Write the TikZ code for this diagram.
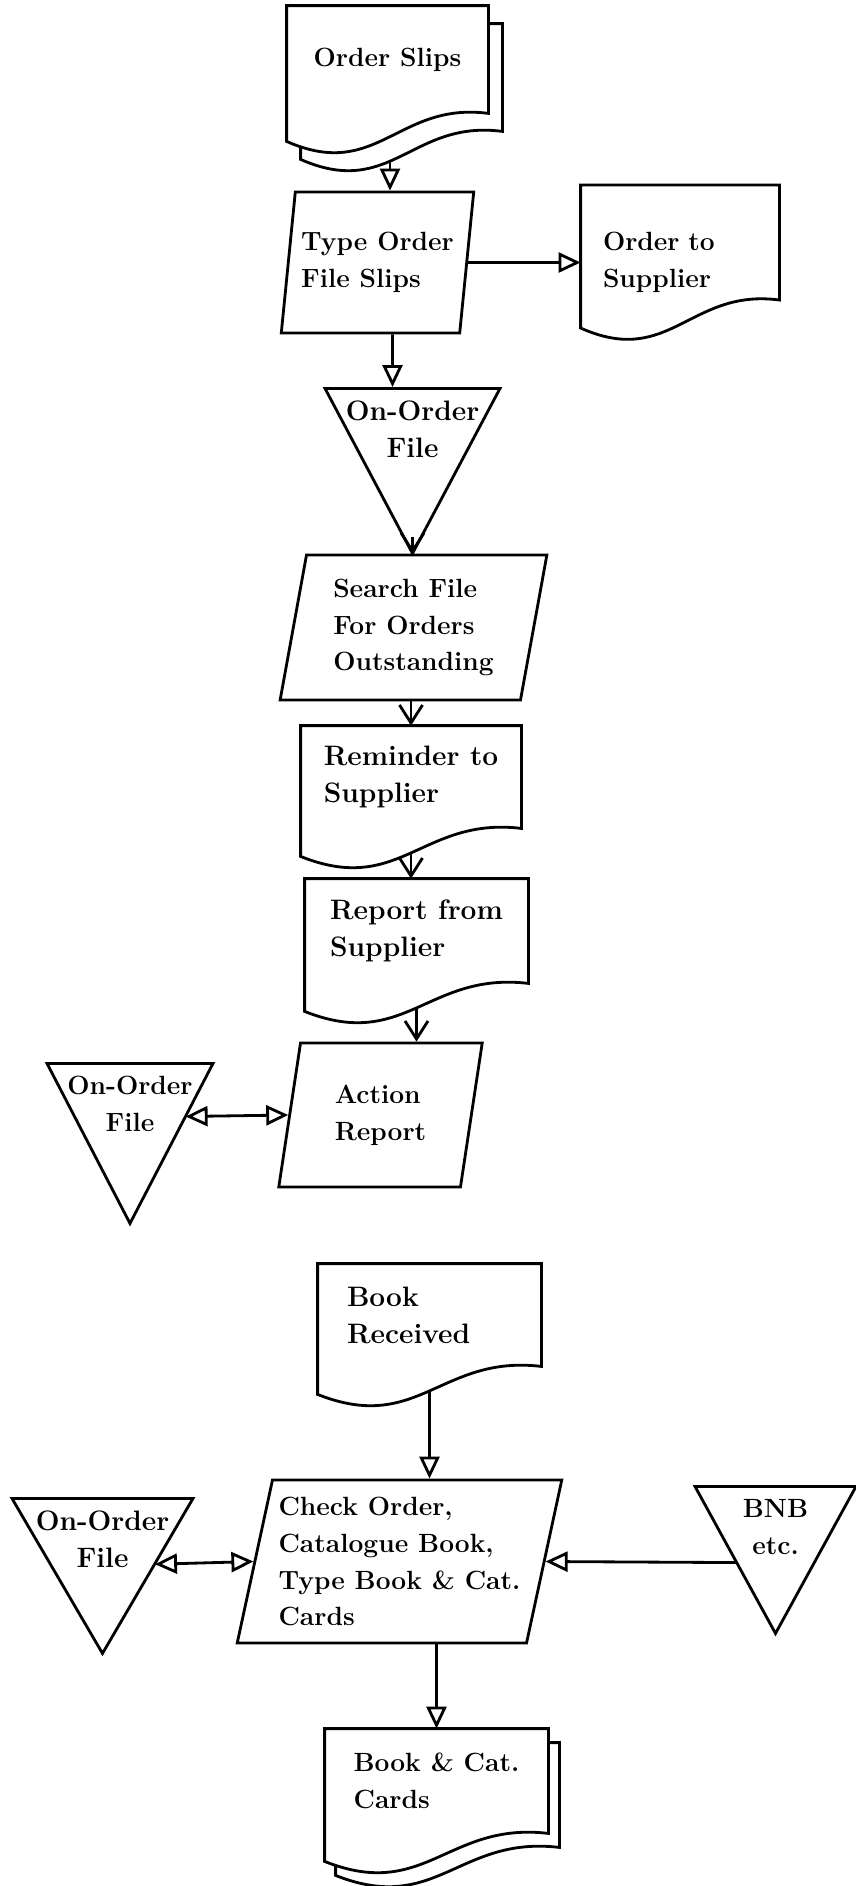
\documentclass[tikz,border=0pt]{standalone}
\usepackage{fontspec}
\usetikzlibrary{shapes.geometric,arrows.meta,calc,backgrounds}

\newcommand{\docoutline}[2][]{%
  \draw[line width=1.6pt,#1] (#2.north west) -- (#2.north east) -- (#2.south east)
    .. controls ($(#2.south west)!0.55!(#2.south east)+(0,0.24)$)
    and ($(#2.south west)!0.45!(#2.south east)+(0,-1.36)$)
    .. ($(#2.south west)+(0,-0.56)$) -- cycle;}

\begin{document}
\begin{tikzpicture}[line width=1.6pt,
    font=\fontsize{15}{21}\selectfont\bfseries,
    midtext/.style={font=\fontsize{16}{21}\selectfont\bfseries},
    doc/.style={rectangle, align=left},
    proc/.style={draw, trapezium, trapezium left angle=79, trapezium right angle=101, trapezium stretches, align=left},
    file/.style={draw, isosceles triangle, shape border rotate=270, isosceles triangle stretches, anchor=north},
    filetext/.style={anchor=north, align=center, yshift=-0.14cm},
    flow/.style={-{Triangle[open,length=0.44cm,width=0.4cm]}},
    twoway/.style={{Triangle[open,length=0.44cm,width=0.4cm]}-{Triangle[open,length=0.44cm,width=0.4cm]}},
    feed/.style={-{Straight Barb[length=0.36cm,width=0.46cm]}}]
  \useasboundingbox (0,0) rectangle (17.12,-37.72);

  % ordering
  \node[doc, minimum width=3.98cm, minimum height=2.1cm] (slips) at (7.75,-1.19) {Order Slips};
  \node[proc, minimum width=3.82cm, minimum height=2.82cm] (type) at (7.55,-5.25) {Type Order\\File Slips};
  \node[doc, minimum width=3.92cm, minimum height=2.02cm, text width=3.08cm, text height=1.17cm] (sup) at (13.6,-4.85) {Order to\\Supplier};
  \node[file, minimum width=3.5cm, minimum height=3.3cm] (f1) at (8.25,-7.74) {};
  \node[filetext, midtext] (f1t) at (f1.north) {On-Order\\File};

  % chasing
  \node[proc, minimum width=5.34cm, minimum height=2.9cm] (search) at (8.27,-12.55) {Search File\\For Orders\\Outstanding};
  \node[doc, midtext, minimum width=4.36cm, minimum height=2cm] (rem) at (8.22,-15.54) {Reminder to\\Supplier};
  \node[doc, midtext, minimum width=4.42cm, minimum height=2.04cm] (rep) at (8.33,-18.62) {Report from\\Supplier};
  \node[proc, minimum width=4.1cm, minimum height=2.88cm] (act) at (7.61,-22.3) {Action\\Report};
  \node[file, minimum width=3.32cm, minimum height=3.2cm] (f2) at (2.6,-21.24) {};
  \node[filetext] (f2t) at (f2.north) {On-Order\\File};

  % receiving
  \node[doc, midtext, minimum width=4.42cm, minimum height=2cm, text width=3.3cm] (rcv) at (8.59,-26.3) {Book\\Received};
  \node[proc, trapezium left angle=76, trapezium right angle=104, minimum width=6.5cm, minimum height=3.26cm] (chk) at (7.99,-31.23) {Check Order,\\Catalogue Book,\\Type Book \& Cat.\\Cards};
  \node[file, minimum width=3.62cm, minimum height=3.1cm] (f3) at (2.05,-29.94) {};
  \node[filetext, midtext] (f3t) at (f3.north) {On-Order\\File};
  \node[file, minimum width=3.22cm, minimum height=2.94cm] (bnb) at (15.51,-29.7) {};
  \node[filetext] (bnbt) at (bnb.north) {BNB\\etc.};
  \node[doc, minimum width=4.42cm, minimum height=2.04cm] (cards) at (8.73,-35.62) {Book \& Cat.\\Cards};

  \begin{scope}[on background layer]
    \begin{scope}[transform canvas={shift={(0.28,-0.36)}}]
      \docoutline{slips}
    \end{scope}
    \docoutline[fill=white]{slips}
    \docoutline{sup}
    \docoutline{rem}
    \docoutline{rep}
    \docoutline{rcv}
    \begin{scope}[transform canvas={shift={(0.22,-0.28)}}]
      \docoutline{cards}
    \end{scope}
    \docoutline[fill=white]{cards}
  \end{scope}

  \coordinate (slips-out) at ($(slips.south)+(0.05,-0.96)$);
  \coordinate (rem-out) at ($(rem.south)+(0,-0.47)$);
  \coordinate (rep-out) at ($(rep.south)+(0,-0.47)$);
  \coordinate (rcv-out) at ($(rcv.south)+(0,-0.47)$);

  \draw[flow] (slips-out) -- (slips-out |- type.north);
  \draw[flow] (type.east) -- (type.east -| sup.west);
  \draw[flow] ([xshift=0.3cm]type.south) -- ([xshift=-0.4cm]f1.north);
  \draw[feed] ([yshift=0.4cm]f1.apex) -- (f1.apex |- search.north);
  \draw[feed] (rem.north |- search.south) -- (rem.north);
  \draw[feed] (rem-out) -- (rem-out |- rep.north);
  \draw[feed] (rep-out) -- (rep-out |- act.north);
  \draw[twoway] ($(f2.apex)!0.67!([xshift=1.66cm]f2.north)$) -- (act.west);
  \draw[flow] (rcv-out) -- (rcv-out |- chk.north);
  \draw[twoway] ($(f3.apex)!0.58!([xshift=1.81cm]f3.north)$) -- (chk.west);
  \draw[flow] ($(bnb.apex)!0.49!([xshift=-1.61cm]bnb.north)$) -- (chk.east);
  \draw[flow] (cards.north |- chk.south) -- (cards.north);
\end{tikzpicture}
\end{document}
